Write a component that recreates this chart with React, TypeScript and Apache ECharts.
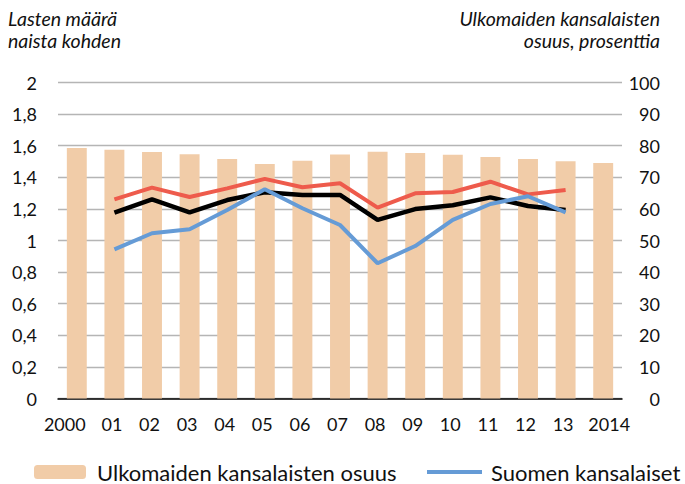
import React, { useEffect, useRef } from "react";
import * as echarts from "echarts";

const categories = ["2000", "01", "02", "03", "04", "05", "06", "07", "08", "09", "10", "11", "12", "13", "2014"];
const foreignShare = [79.3, 78.7, 78.0, 77.3, 75.8, 74.2, 75.2, 77.2, 78.1, 77.7, 77.1, 76.4, 75.8, 75.1, 74.5];
const foreignFertility = [null, 1.26, 1.335, 1.275, 1.33, 1.39, 1.337, 1.362, 1.208, 1.299, 1.307, 1.372, 1.292, 1.32, null];
const allFertility = [null, 1.176, 1.261, 1.178, 1.256, 1.305, 1.288, 1.288, 1.13, 1.199, 1.223, 1.273, 1.218, 1.193, null];
const finnishFertility = [null, 0.944, 1.046, 1.071, 1.193, 1.324, 1.204, 1.098, 0.856, 0.965, 1.13, 1.231, 1.28, 1.178, null];

const leftTitle = "Lasten määrä\nnaista kohden";
const rightTitle = "Ulkomaiden kansalaisten\nosuus, prosenttia";

const FONT = "Lato, 'Open Sans', sans-serif";
const TXT = "#111";

export default function App() {
  const ref = useRef<HTMLDivElement>(null);
  useEffect(() => {
    const chart = echarts.init(ref.current!, null, { renderer: "svg" });
    const labelRich = { fontSize: 18, color: TXT, fontFamily: FONT };
    chart.setOption({
      animation: false,
      textStyle: { fontFamily: FONT },
      graphic: [
        {
          type: "text",
          x: 8,
          y: 7,
          style: {
            text: leftTitle,
            fontSize: 19.5,
            fontStyle: "italic",
            fontFamily: FONT,
            fill: TXT,
            lineHeight: 22,
            align: "left",
            verticalAlign: "top",
          },
        },
        {
          type: "text",
          x: 660,
          y: 7,
          style: {
            text: rightTitle,
            fontSize: 19.5,
            fontStyle: "italic",
            fontFamily: FONT,
            fill: TXT,
            lineHeight: 22,
            align: "right",
            verticalAlign: "top",
          },
        },
      ],
      legend: [
        {
          data: ["Ulkomaiden kansalaisten osuus"],
          left: 34,
          top: 461,
          padding: 0,
          itemWidth: 52,
          itemHeight: 14,
          textStyle: { fontSize: 22, color: TXT, fontFamily: FONT, padding: [0, 0, 0, 6] },
        },
        {
          data: [{ name: "Suomen kansalaiset", icon: "rect" }],
          left: 427,
          top: 461,
          padding: 0,
          itemWidth: 55,
          itemHeight: 4,
          textStyle: { fontSize: 22, color: TXT, fontFamily: FONT, padding: [0, 0, 0, 4] },
        },
      ],
      grid: { left: 58, right: 63, top: 82.5, bottom: 85.5, containLabel: false },
      xAxis: {
        type: "category",
        data: categories,
        axisTick: { show: false },
        axisLine: { lineStyle: { color: "#000", width: 1.5 } },
        axisLabel: {
          fontSize: 18,
          color: TXT,
          margin: 16,
          interval: 0,
          formatter: (v: string, i: number) =>
            i === 0 ? `{first|${v}}` : i === categories.length - 1 ? `{last|${v}}` : `{mid|${v}}`,
          rich: {
            first: { ...labelRich, padding: [0, 24, 0, 0] },
            mid: { ...labelRich, padding: [0, 5, 0, 0] },
            last: { ...labelRich, padding: [0, 0, 0, 12] },
          },
        },
      },
      yAxis: [
        {
          type: "value",
          min: 0,
          max: 2,
          interval: 0.2,
          axisLine: { show: false },
          axisTick: { show: false },
          splitLine: { lineStyle: { color: "#b5b5b5", width: 1.3 } },
          axisLabel: {
            fontSize: 18,
            color: TXT,
            margin: 21,
            formatter: (v: number) => String(Number(v.toFixed(1))).replace(".", ","),
          },
        },
        {
          type: "value",
          min: 0,
          max: 100,
          interval: 10,
          axisLine: { show: false },
          axisTick: { show: false },
          splitLine: { show: false },
          axisLabel: { fontSize: 18, color: TXT, margin: 38, align: "right" },
        },
      ],
      series: [
        {
          name: "Ulkomaiden kansalaisten osuus",
          type: "bar",
          yAxisIndex: 1,
          data: foreignShare,
          barWidth: "53%",
          itemStyle: { color: "#F1CCA8" },
        },
        {
          name: "Ulkomaiden kansalaiset",
          type: "line",
          data: foreignFertility,
          showSymbol: false,
          symbol: "none",
          lineStyle: { color: "#EE5B4C", width: 4 },
          itemStyle: { color: "#EE5B4C" },
        },
        {
          name: "Kaikki",
          type: "line",
          data: allFertility,
          showSymbol: false,
          symbol: "none",
          lineStyle: { color: "#000", width: 4.5 },
          itemStyle: { color: "#000" },
        },
        {
          name: "Suomen kansalaiset",
          type: "line",
          data: finnishFertility,
          showSymbol: false,
          symbol: "none",
          lineStyle: { color: "#659BD6", width: 4 },
          itemStyle: { color: "#659BD6" },
        },
      ],
    });
    return () => chart.dispose();
  }, []);
  return <div ref={ref} style={{ width: 685, height: 484, position: "absolute", left: 0, top: 0 }} />;
}
